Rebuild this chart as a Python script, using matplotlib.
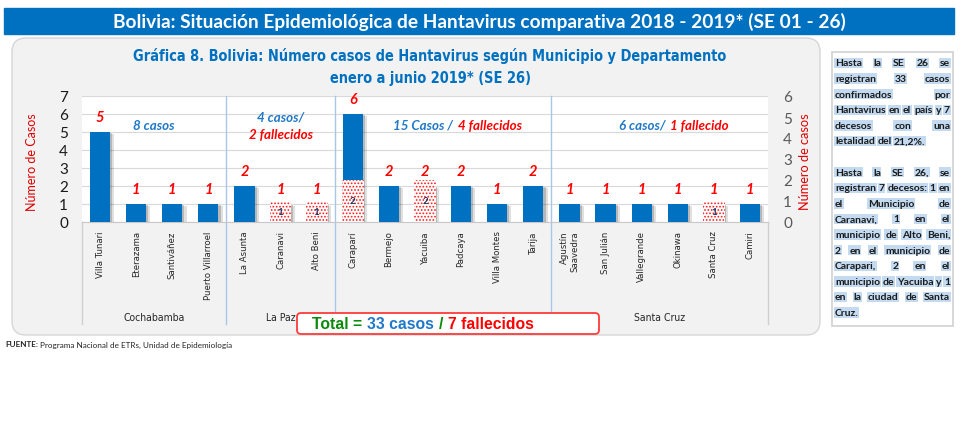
import matplotlib
matplotlib.use("Agg")
import matplotlib.pyplot as plt
from matplotlib import font_manager, patheffects
from matplotlib.patches import FancyBboxPatch, Rectangle
import numpy as np

W, H = 980, 427

municipios = ["Villa Tunari", "Eterazama", "Santiváñez", "Puerto Villarroel",
              "La Asunta", "Caranavi", "Alto Beni",
              "Caraparí", "Bermejo", "Yacuiba", "Padcaya", "Villa Montes", "Tarija",
              "Agustín\nSaavedra", "San Julián", "Vallegrande", "Okinawa", "Santa Cruz", "Camiri"]
casos = [5, 1, 1, 1, 2, 1, 1, 6, 2, 2, 2, 1, 2, 1, 1, 1, 1, 1, 1]
fallecidos = [0, 0, 0, 0, 0, 1, 1, 2, 0, 2, 0, 0, 0, 0, 0, 0, 0, 1, 0]
departamentos = ["Cochabamba", "La Paz", "Tarija", "Santa Cruz"]
n_municipios = [4, 3, 6, 6]

AZUL = "#0070C0"
AZUL2 = "#1f78c8"
ROJO = "#ff0000"
VERDE = "#0a8a0a"

titulo = "Bolivia: Situación Epidemiológica de Hantavirus comparativa 2018 - 2019* (SE 01 - 26)"
titulo_graf = ["Gráfica 8. Bolivia: Número casos de Hantavirus según Municipio y Departamento",
               "enero a junio 2019* (SE 26)"]
resumen_depto = [
    [[("8 casos", AZUL2)]],
    [[("4 casos/", AZUL2)], [("2 fallecidos", ROJO)]],
    [[("15 Casos /", AZUL2), ("4 fallecidos", ROJO)]],
    [[("6 casos/", AZUL2), ("1 fallecido", ROJO)]],
]
total = [("Total =", VERDE), ("33 casos", AZUL2), ("/", VERDE), ("7 fallecidos", ROJO)]
nota = [
    ["Hasta la SE 26 se", "registran 33 casos", "confirmados por",
     "Hantavirus en el país y 7", "decesos con una", "letalidad del 21,2%."],
    ["Hasta la SE 26, se", "registran 7 decesos: 1 en", "el Municipio de",
     "Caranavi, 1 en el", "municipio de Alto Beni,", "2 en el municipio de",
     "Carapari, 2 en el", "municipio de Yacuiba y 1", "en la ciudad de Santa", "Cruz."],
]
fuente = ["FUENTE:", "Programa Nacional de ETRs, Unidad de Epidemiología"]

plt.rcParams["font.family"] = ["Lato", "DejaVu Sans"]
plt.rcParams["hatch.linewidth"] = 0.8

nombres = {f.name for f in font_manager.fontManager.ttflist}
if "Liberation Sans Narrow" in nombres:
    ANGOSTA = dict(family="Liberation Sans Narrow")
else:
    ANGOSTA = dict(family="DejaVu Sans", fontstretch="condensed")

fig = plt.figure(figsize=(W / 100, H / 100), dpi=100)
rend = fig.canvas.get_renderer()


def capa(z):
    a = fig.add_axes([0, 0, 1, 1], zorder=z)
    a.set_xlim(0, W)
    a.set_ylim(H, 0)
    a.axis("off")
    return a


def ajustar(t, objetivo, eje="w"):
    bb = t.get_window_extent(rend)
    actual = bb.width if eje == "w" else bb.height
    t.set_fontsize(t.get_fontsize() * objetivo / actual)


def partes(axis, x, y, trozos, ha="center", ancho=None, size=10, gap=0.3, **kw):
    ts = [axis.text(0, y, s, color=c, ha="left", va="center", fontsize=size, **kw)
          for s, c in trozos]

    def medir():
        ws = [t.get_window_extent(rend).width for t in ts]
        esp = ts[0].get_fontsize() * gap * 100 / 72
        return ws, esp, sum(ws) + esp * (len(ts) - 1)

    ws, esp, tot = medir()
    if ancho:
        for t in ts:
            t.set_fontsize(t.get_fontsize() * ancho / tot)
        ws, esp, tot = medir()
    x0 = x - tot / 2 if ha == "center" else x
    for t, w in zip(ts, ws):
        t.set_x(x0)
        x0 += w + esp
    return ts


fondo = capa(0)
arriba = capa(10)

# banner
fondo.add_patch(Rectangle((4, 9), 950, 26, color=AZUL))
t = fondo.text(479, 22, titulo, color="white", fontsize=14, fontweight="bold",
               ha="center", va="center")
ajustar(t, 740)

# panel
fondo.add_patch(FancyBboxPatch((12, 39), 808, 297, boxstyle="round,pad=0,rounding_size=14",
                               fc="#f2f2f2", ec="#d6d6d6", lw=1))
t1 = fondo.text(430, 56, titulo_graf[0], color=AZUL, fontsize=12, fontweight="bold",
                ha="center", va="center", **ANGOSTA)
ajustar(t1, 594)
fondo.text(430, 78, titulo_graf[1], color=AZUL, fontsize=t1.get_fontsize(), fontweight="bold",
           ha="center", va="center", **ANGOSTA)

# area del grafico
L, R, T, B = 82, 768, 97, 223
ax = fig.add_axes([L / W, 1 - B / H, (R - L) / W, (B - T) / H], zorder=2)
ax2 = ax.twinx()
ax2.set_zorder(3)
ax2.patch.set_visible(False)

x = np.arange(len(municipios))
casos = np.array(casos)
fallecidos = np.array(fallecidos)

sombra = [patheffects.SimplePatchShadow(offset=(3, -1.5), shadow_rgbFace="black", alpha=0.12),
          patheffects.SimplePatchShadow(offset=(1.5, -1), shadow_rgbFace="black", alpha=0.18),
          patheffects.Normal()]
ax.bar(x, casos, width=0.56, color=AZUL, zorder=3, path_effects=sombra)
m = fallecidos > 0
ax2.bar(x[m], fallecidos[m], width=0.6, facecolor="white", edgecolor="#ff1a1a", hatch=".....",
        linewidth=0, zorder=3)

for i, c in enumerate(casos):
    ax.text(i, c + 0.85, str(c), color=ROJO, fontsize=10.5, fontweight="bold",
            fontstyle="italic", ha="center", va="center")
for i in x[m]:
    ax2.text(i, fallecidos[i] / 2, str(fallecidos[i]), color="#1f3864", fontsize=7,
             fontweight="bold", ha="center", va="center", zorder=5)

ax.set_xlim(-0.5, len(municipios) - 0.5)
ax.set_ylim(0, 7)
ax2.set_ylim(0, 6)
ax.set_yticks(range(8))
ax2.set_yticks(range(7))
ax.yaxis.grid(True, color="#d9d9d9", lw=0.8)
ax.set_axisbelow(True)
for a in (ax, ax2):
    for s in a.spines.values():
        s.set_visible(False)
ax.spines["bottom"].set_visible(True)
ax.spines["bottom"].set_color("#c8c8c8")
ax.tick_params(axis="y", length=0, pad=10, labelsize=11, labelcolor="#1a1a1a")
ax2.tick_params(axis="y", length=0, pad=11, labelsize=11, labelcolor="#595959")

ax.set_xticks(x)
ax.set_xticklabels(municipios, rotation=90, color="#262626", **ANGOSTA)
ax.tick_params(axis="x", length=0, pad=6)
etiquetas = ax.get_xticklabels()
for e in etiquetas:
    e.set_multialignment("right")
ajustar(etiquetas[3], 68, "h")
for e in etiquetas:
    e.set_fontsize(etiquetas[3].get_fontsize())

# separadores y departamentos
lim = np.cumsum(n_municipios)
trx = ax.get_xaxis_transform()
for b in lim[:-1]:
    ax.plot([b - 0.5, b - 0.5], [1, -0.81], transform=trx, clip_on=False,
            color="#a9c6e6", lw=1, zorder=1)
for b in (-0.5, len(municipios) - 0.5):
    ax.plot([b, b], [0, -0.81], transform=trx, clip_on=False, color="#cfcfcf", lw=1)
inicio = np.concatenate([[0], lim[:-1]])
centros = (inicio + lim - 1) / 2
for c, d in zip(centros, departamentos):
    ax.text(c, -0.755, d, transform=trx, ha="center", va="center", fontsize=7.5,
            color="#262626", **ANGOSTA)

# resumenes por departamento
a_pix = lambda xd, yd: fondo.transData.inverted().transform(ax.transData.transform((xd, yd)))
pos_resumen = [[(1.5, 5.4)], [(5.0, 5.85), (5.0, 4.9)], [(9.9, 5.4)], [(15.9, 5.4)]]
fs = partes(arriba, *a_pix(*pos_resumen[2][0]), resumen_depto[2][0], ancho=128,
            fontweight="bold", fontstyle="italic")[0].get_fontsize()
for k in (0, 1, 3):
    for lin, p in zip(resumen_depto[k], pos_resumen[k]):
        partes(arriba, *a_pix(*p), lin, size=fs, fontweight="bold", fontstyle="italic")

# etiquetas de ejes
t = fondo.text(32, 162, "Número de Casos", rotation=90, color="#e00000", fontsize=9,
               ha="center", va="center")
ajustar(t, 98, "h")
t = fondo.text(805, 162, "Número de casos", rotation=90, color="#e00000", fontsize=9,
               ha="center", va="center")
ajustar(t, 97, "h")

# total
arriba.add_patch(FancyBboxPatch((297, 314), 302, 21, boxstyle="round,pad=0,rounding_size=4",
                                fc="white", ec="#ff3b3b", lw=1.3))
partes(arriba, 312, 325, total, ha="left", ancho=220, family="Liberation Sans",
       fontweight="bold")

# fuente
tf = partes(fondo, 5, 345, [(fuente[0], "#262626")], ha="left", size=5.9, fontweight="bold")[0]
ancho_f = tf.get_window_extent(rend).width
fondo.text(5 + ancho_f + 2, 345, fuente[1], fontsize=5.9, color="#262626", ha="left", va="center")

# nota lateral
fondo.add_patch(Rectangle((832, 53), 121, 274, fc="white", ec="#d4d4d4", lw=1.3))
xl, xr = 835, 950
esp_min = 2.5
# tamano de letra para que la linea mas larga quepa
prueba = fondo.text(0, 0, "x", fontsize=10, fontweight="bold")
maxw = 0
for parrafo in nota:
    for linea in parrafo:
        pal = linea.split()
        ws = []
        for p in pal:
            prueba.set_text(p)
            ws.append(prueba.get_window_extent(rend).width)
        maxw = max(maxw, sum(ws) / (xr - xl - esp_min * (len(pal) - 1)))
prueba.remove()
fs_nota = 10 / maxw

y = 64
for parrafo in nota:
    for j, linea in enumerate(parrafo):
        palabras = linea.split()
        ts = [fondo.text(0, y, p, fontsize=fs_nota, fontweight="bold", color="#1a1a1a",
                         ha="left", va="center",
                         bbox=dict(facecolor="#c3daf0", edgecolor="none", pad=0.5))
              for p in palabras]
        ws = [t.get_window_extent(rend).width for t in ts]
        ultima = j == len(parrafo) - 1
        if ultima or len(ts) == 1:
            esp = esp_min
        else:
            esp = (xr - xl - sum(ws)) / (len(ts) - 1)
        x0 = xl
        for t, w in zip(ts, ws):
            t.set_x(x0)
            x0 += w + esp
        y += 15.6
    y += 15.6

fig.savefig("out.png", dpi=100)
